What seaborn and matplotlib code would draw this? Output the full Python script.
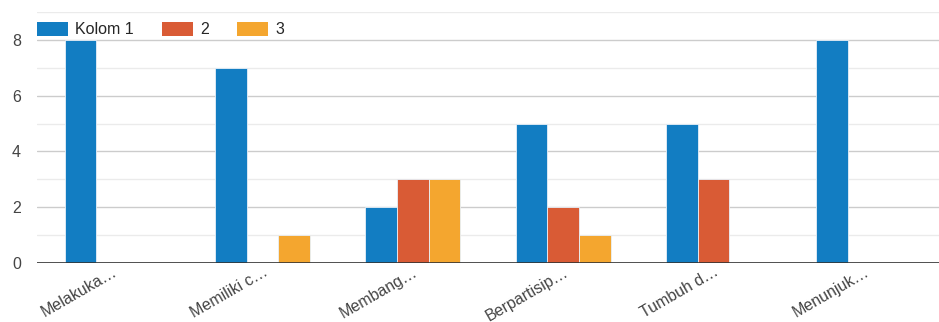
import pandas as pd
import numpy as np
import seaborn as sns
import matplotlib.pyplot as plt
from matplotlib.patches import Patch

# data
categories = ["Melakuka…", "Memiliki c…", "Membang…", "Berpartisip…", "Tumbuh d…", "Menunjuk…"]
series = ["Kolom 1", "2", "3"]
kolom1 = [8, 7, 2, 5, 5, 8]
kolom2 = [0, 0, 3, 2, 3, 0]
kolom3 = [0, 1, 3, 1, 0, 0]

colors = ["#127dc2", "#d95b35", "#f4a62f"]

df = pd.DataFrame({"kategori": categories, "Kolom 1": kolom1, "2": kolom2, "3": kolom3})
df_long = df.melt(id_vars="kategori", var_name="seri", value_name="nilai")

sns.set_style("white")
plt.rcParams['font.family'] = ['Liberation Sans', 'DejaVu Sans']

fig = plt.figure(figsize=(9.39, 3.22), dpi=100)
ax = fig.add_axes([37 / 939, 1 - 263 / 322, 1 - 37 / 939, (263 - 12) / 322])

sns.barplot(data=df_long, x="kategori", y="nilai", hue="seri", hue_order=series,
            palette=colors, width=0.63, ax=ax, legend=False,
            edgecolor="#e8f0f8", linewidth=0.6, saturation=1, zorder=3)

# hilangkan batang bernilai 0
for p in ax.patches:
    if p.get_height() == 0:
        p.set_visible(False)

ax.set_ylim(0, 9)
ax.set_xlim(-0.5, len(categories) - 0.5)
ax.set_yticks([0, 2, 4, 6, 8])
ax.set_yticks([1, 3, 5, 7, 9], minor=True)
ax.grid(axis="y", which="major", color="#cccccc", linewidth=1, zorder=0)
ax.grid(axis="y", which="minor", color="#ebebeb", linewidth=1, zorder=0)
ax.axhline(0, color="#333333", linewidth=1.2, zorder=4)
for s in ax.spines.values():
    s.set_visible(False)

ax.set_xlabel("")
ax.set_ylabel("")
ax.tick_params(axis="y", which="both", length=0, labelsize=11.5, labelcolor="#444444", pad=18)
for lbl in ax.get_yticklabels():
    lbl.set_horizontalalignment("left")
ax.tick_params(axis="x", length=0, labelsize=11.5, labelcolor="#444444", pad=1)
plt.setp(ax.get_xticklabels(), rotation=30, ha="right", rotation_mode="anchor")

handles = [Patch(facecolor=c, edgecolor="none") for c in colors]
ax.legend(handles, series, loc="upper left", bbox_to_anchor=(0, 1 - 10 / 251), ncol=3,
          frameon=False, fontsize=11.5, handlelength=1.95, handleheight=0.95,
          columnspacing=1.75, handletextpad=0.45, borderaxespad=0, borderpad=0)

plt.savefig("out.png", dpi=100, facecolor="white")
plt.close()
